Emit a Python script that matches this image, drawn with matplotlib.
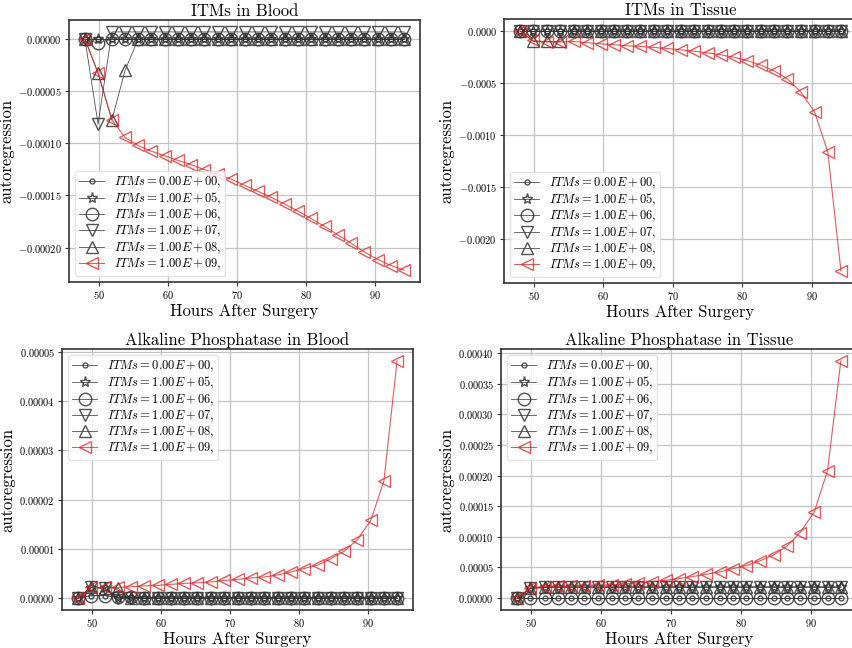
import matplotlib
matplotlib.use('Agg')
import matplotlib.pyplot as plt
from matplotlib.ticker import FuncFormatter

plt.rcParams['font.family'] = 'serif'
plt.rcParams['font.serif'] = ['cmr10', 'DejaVu Serif']
plt.rcParams['mathtext.fontset'] = 'cm'
plt.rcParams['axes.unicode_minus'] = False

hours = [48.0, 49.9, 51.9, 53.8, 55.7, 57.6, 59.6, 61.5, 63.4, 65.3, 67.3, 69.2,
         71.1, 73.0, 75.0, 76.9, 78.8, 80.7, 82.7, 84.6, 86.5, 88.4, 90.4, 92.3, 94.2]

labels = [r'$ITMs = 0.00E+00,$', r'$ITMs = 1.00E+05,$', r'$ITMs = 1.00E+06,$',
          r'$ITMs = 1.00E+07,$', r'$ITMs = 1.00E+08,$', r'$ITMs = 1.00E+09,$']

# ITMs in blood
itm_blood_0 = [0.0] * 25
itm_blood_5 = [0.0] * 25
itm_blood_6 = [0.0, -3.8e-6] + [0.0] * 23
itm_blood_7 = [0.0, -8.15e-5] + [7e-6] * 23
itm_blood_8 = [0.0, -3.25e-5, -7.75e-5, -3.0e-5] + [0.0] * 21
itm_blood_9 = [0.0, -3.24e-5, -7.74e-5, -9.42e-5, -1.02e-4, -1.075e-4, -1.12e-4,
               -1.164e-4, -1.205e-4, -1.252e-4, -1.297e-4, -1.344e-4, -1.401e-4,
               -1.458e-4, -1.519e-4, -1.582e-4, -1.648e-4, -1.72e-4, -1.797e-4,
               -1.877e-4, -1.956e-4, -2.04e-4, -2.115e-4, -2.172e-4, -2.216e-4]

# ITMs in tissue
itm_tissue_0 = [0.0] * 25
itm_tissue_5 = [0.0] * 25
itm_tissue_6 = [0.0] * 25
itm_tissue_7 = [0.0] * 25
itm_tissue_8 = [0.0, -1.0e-4, -1.0e-4, -1.0e-4] + [0.0] * 21
itm_tissue_9 = [0.0, -9.0e-5, -1.06e-4, -1.06e-4, -1.0e-4, -1.13e-4, -1.23e-4,
                -1.32e-4, -1.42e-4, -1.48e-4, -1.58e-4, -1.68e-4, -1.81e-4,
                -1.94e-4, -2.10e-4, -2.29e-4, -2.52e-4, -2.84e-4, -3.29e-4,
                -3.84e-4, -4.61e-4, -5.84e-4, -7.77e-4, -1.161e-3, -2.306e-3]

# alkaline phosphatase in blood
alp_blood_0 = [0.0, 5e-7, 5e-7, 2e-7, 2e-7] + [0.0] * 20
alp_blood_5 = [0.0, 2.1e-6, 2.0e-6] + [0.0] * 22
alp_blood_6 = [0.0, 5e-7, 5e-7, 2e-7, 2e-7] + [0.0] * 20
alp_blood_7 = [0.0, 2.2e-6, 2.0e-6] + [0.0] * 22
alp_blood_8 = [0.0, 2.2e-6, 2.1e-6, 2.0e-6] + [0.0] * 21
alp_blood_9 = [0.0, 2.17e-6, 2.17e-6, 2.17e-6, 2.3e-6, 2.5e-6, 2.6e-6, 2.8e-6,
               3.0e-6, 3.1e-6, 3.3e-6, 3.6e-6, 3.8e-6, 4.1e-6, 4.3e-6, 4.7e-6,
               5.3e-6, 6.0e-6, 6.7e-6, 8.0e-6, 9.5e-6, 1.18e-5, 1.58e-5,
               2.38e-5, 4.82e-5]

# alkaline phosphatase in tissue
alp_tissue_0 = [0.0] * 25
alp_tissue_5 = [0.0, 1.6e-5, 1.75e-5] + [1.8e-5] * 22
alp_tissue_6 = [0.0] * 25
alp_tissue_7 = [0.0, 1.6e-5, 1.75e-5] + [1.8e-5] * 22
alp_tissue_8 = [0.0, 1.6e-5, 1.75e-5] + [1.8e-5] * 22
alp_tissue_9 = [0.0, 1.73e-5, 1.89e-5, 1.95e-5, 2.0e-5, 2.05e-5, 2.11e-5, 2.16e-5,
                2.32e-5, 2.49e-5, 2.70e-5, 2.92e-5, 3.19e-5, 3.51e-5, 3.89e-5,
                4.27e-5, 4.81e-5, 5.30e-5, 6.11e-5, 7.03e-5, 8.49e-5, 1.07e-4,
                1.405e-4, 2.076e-4, 3.87e-4]

panels = [
    ('ITMs in Blood', [itm_blood_0, itm_blood_5, itm_blood_6, itm_blood_7, itm_blood_8, itm_blood_9],
     [-0.0002, -0.00015, -0.0001, -0.00005, 0.0], '%.5f', 'lower left',
     [69, 20, 420, 282]),
    ('ITMs in Tissue', [itm_tissue_0, itm_tissue_5, itm_tissue_6, itm_tissue_7, itm_tissue_8, itm_tissue_9],
     [-0.002, -0.0015, -0.001, -0.0005, 0.0], '%.4f', 'lower left',
     [504, 19, 857, 283]),
    ('Alkaline Phosphatase in Blood', [alp_blood_0, alp_blood_5, alp_blood_6, alp_blood_7, alp_blood_8, alp_blood_9],
     [0.0, 0.00001, 0.00002, 0.00003, 0.00004, 0.00005], '%.5f', 'upper left',
     [62, 349, 413, 610]),
    ('Alkaline Phosphatase in Tissue', [alp_tissue_0, alp_tissue_5, alp_tissue_6, alp_tissue_7, alp_tissue_8, alp_tissue_9],
     [0.0, 0.00005, 0.0001, 0.00015, 0.0002, 0.00025, 0.0003, 0.00035, 0.0004], '%.5f', 'upper left',
     [501, 349, 857, 610]),
]

styles = [
    dict(marker='o', ms=3.5),
    dict(marker='*', ms=8),
    dict(marker='o', ms=9),
    dict(marker='v', ms=9),
    dict(marker='^', ms=9),
    dict(marker='<', ms=9),
]

W, H = 852, 648
fig = plt.figure(figsize=(W / 100, H / 100), dpi=100)

for title, series, yticks, fmt, loc, (x0, y0, x1, y1) in panels:
    ax = fig.add_axes([x0 / W, 1 - y1 / H, (x1 - x0) / W, (y1 - y0) / H])
    for i, (vals, st) in enumerate(zip(series, styles)):
        if i == 5:
            ax.plot(hours, vals, color='#d62728', alpha=0.75, lw=0.8,
                    mfc='none', mew=1.0, label=labels[i], **st)
        else:
            ax.plot(hours, vals, color='#333333', alpha=0.85, lw=0.6,
                    mfc='none', mew=1.0, label=labels[i], **st)
    ax.set_title(title, fontsize=12, pad=3)
    ax.set_xlabel('Hours After Surgery', fontsize=12, labelpad=2)
    ax.set_ylabel('autoregression', fontsize=12, labelpad=3)
    ax.set_xticks([50, 60, 70, 80, 90])
    ax.set_yticks(yticks)
    ax.xaxis.set_major_formatter(FuncFormatter(lambda v, p: r'$%d$' % v))
    ax.yaxis.set_major_formatter(FuncFormatter(lambda v, p, f=fmt: r'$' + (f % v) + r'$'))
    ax.tick_params(labelsize=7.5, length=3, width=0.8, color='#333333', pad=2)
    ax.grid(True, color='#c4c4c4', lw=0.9)
    ax.set_axisbelow(True)
    for sp in ax.spines.values():
        sp.set_color('#333333')
        sp.set_linewidth(1.2)
    ax.legend(loc=loc, fontsize=9, framealpha=0.8, edgecolor='#dddddd',
              handlelength=2.0, borderpad=0.3, labelspacing=0.08)

fig.savefig('out.png', dpi=100)
